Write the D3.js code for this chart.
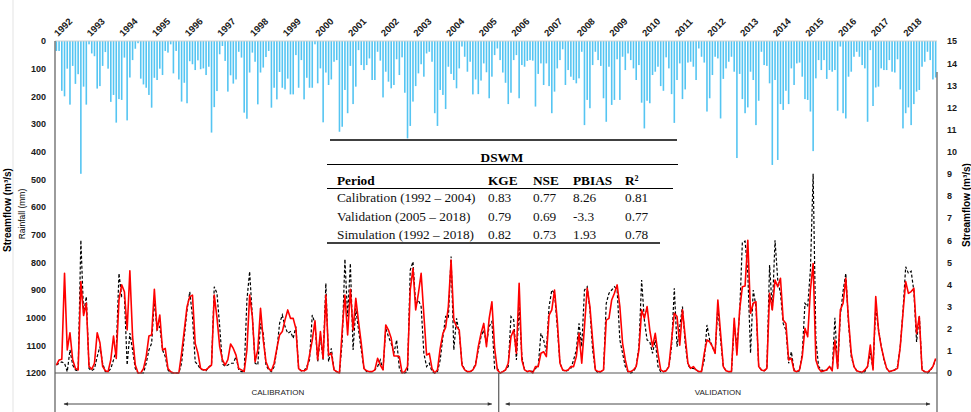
<!DOCTYPE html>
<html>
<head>
<meta charset="utf-8">
<script src="https://cdn.jsdelivr.net/npm/d3@7"></script>
<style>
  body { margin: 0; background: #fff; }
</style>
</head>
<body>
<svg id="chart" width="971" height="412"></svg>
<script>

// ---- data (monthly, Jan 1992 - Dec 2018) ----
var years = ['1992','1993','1994','1995','1996','1997','1998','1999','2000','2001','2002','2003','2004',
  '2005','2006','2007','2008','2009','2010','2011','2012','2013','2014','2015','2016','2017','2018'];

var rainTicks = [0,100,200,300,400,500,600,700,800,900,1000,1100,1200];
var flowTicks = [0,1,2,3,4,5,6,7,8,9,10,11,12,13,14,15];

// rainfall (mm)
var rainfall = [
  36,36,180,200,100,230,90,155,120,480,165,230,
  12,45,55,172,163,90,40,100,220,195,295,210,
  213,60,287,132,69,28,8,136,157,169,195,241,
  133,141,100,123,36,42,12,117,36,139,219,151,
  225,73,84,105,70,102,99,123,93,331,239,181,
  48,18,72,183,124,154,139,39,60,259,281,114,
  42,75,229,114,96,58,36,241,169,211,112,169,
  175,136,193,193,51,169,69,211,133,169,169,12,
  153,99,294,114,159,139,75,69,328,310,177,261,
  90,228,165,33,87,105,87,63,141,141,39,71,
  204,111,147,171,159,66,123,59,187,352,307,219,
  163,117,84,129,45,39,75,261,307,177,195,246,
  93,119,141,171,99,20,57,111,75,193,139,192,
  143,81,113,207,129,51,27,69,114,151,228,187,
  69,51,207,87,93,72,69,71,237,119,81,159,
  81,163,261,183,99,69,30,159,105,129,141,153,
  135,39,304,213,243,87,39,69,90,207,292,93,
  231,213,66,213,57,105,45,69,99,141,87,223,
  316,216,225,123,111,93,163,180,59,99,192,296,
  141,81,210,175,78,75,93,141,27,57,78,255,
  207,123,57,63,280,137,99,75,57,111,423,119,
  210,261,240,111,141,304,216,39,87,90,153,448,
  141,430,228,249,180,228,99,159,81,78,129,210,
  213,255,398,135,69,105,69,137,105,111,105,252,
  20,261,280,129,111,57,39,57,87,99,292,33,
  235,168,165,99,105,105,69,111,114,66,175,316,
  261,240,304,228,183,177,93,75,39,69,139,132
];

// observed streamflow (m3/s)
var observed = [
  0.36,0.44,0.5,0.44,0.06,1.04,0.36,0.14,0.1,6.0,2.7,3.45,
  0.2,0.1,0.2,0.74,1.19,0.44,0.06,0.06,0.2,0.59,1.04,4.5,
  3.45,3.45,0.36,1.8,1.04,0.2,0.0,0.0,0.0,0.44,1.04,1.34,
  3.3,1.94,2.1,1.04,0.74,0.14,0.0,0.0,0.0,0.0,0.44,1.64,
  2.83,3.67,2.55,0.51,0.36,0.17,0.14,0.1,0.28,0.36,3.9,3.6,
  2.1,0.41,0.3,0.36,0.44,0.44,0.74,0.14,0.06,0.06,3.3,4.58,
  2.55,0.44,0.36,2.24,1.79,0.36,0.14,0.06,0.28,1.04,2.24,2.62,
  2.1,1.79,1.87,1.57,2.1,0.2,0.1,0.1,0.29,0.59,2.62,2.24,
  0.51,1.64,0.59,4.05,0.51,1.11,0.14,0.06,0.0,1.4,5.14,2.55,
  4.95,1.04,2.92,1.94,1.04,0.2,0.06,0.06,0.06,0.14,0.29,0.59,
  0.14,2.02,1.64,1.34,0.89,1.49,0.2,0.0,0.0,0.06,4.65,5.03,
  3.07,3.3,3.0,0.89,0.29,0.44,0.06,0.0,0.06,0.59,1.64,2.55,
  2.47,5.26,1.04,2.47,1.79,0.44,0.14,0.06,0.06,0.14,0.44,1.04,
  1.64,1.94,1.34,2.1,2.32,0.2,0.21,0.0,0.06,0.14,0.29,2.55,
  2.4,0.59,3.0,0.74,0.14,0.06,0.1,0.06,0.21,0.29,1.79,1.49,
  0.96,3.0,3.75,3.6,2.09,0.44,0.14,0.06,0.14,0.21,0.59,1.04,
  2.24,1.19,3.75,3.9,2.85,1.04,0.14,0.0,0.06,0.14,3.15,3.6,
  3.75,3.9,3.75,1.49,0.89,0.29,0.06,0.0,0.06,0.29,1.19,4.2,
  2.39,1.49,1.41,0.89,1.49,0.29,0.06,0.06,0.1,0.29,1.19,3.83,
  1.19,2.09,3.0,1.34,0.36,0.21,0.21,0.14,0.06,0.1,0.59,2.17,
  1.49,1.19,0.89,3.0,1.49,0.29,0.1,0.06,0.06,2.2,1.2,2.7,
  5.9,5.96,4.5,0.9,3.75,3.0,0.3,0.14,0.1,0.2,4.88,2.85,
  6.0,4.2,3.6,2.24,1.94,0.44,0.96,0.14,0.06,0.1,0.9,3.15,
  3.0,4.65,9.0,1.5,0.3,0.14,0.1,0.14,0.3,0.14,2.5,0.2,
  2.6,3.7,4.5,2.2,0.74,0.3,0.1,0.06,0.0,0.06,0.3,0.9,
  0.2,3.0,2.0,1.2,0.6,0.21,0.06,0.1,0.14,0.3,1.2,2.8,
  4.8,4.5,4.6,3.7,1.4,2.6,0.14,0.06,0.0,0.1,0.3,0.6
];

// simulated streamflow, DSWM (m3/s)
var simulated = [
  0.36,0.59,0.62,4.5,1.04,1.82,0.6,0.2,0.14,4.13,2.6,3.15,
  0.3,0.17,0.44,1.82,1.37,0.3,0.1,0.06,0.6,1.67,0.66,3.3,
  3.98,3.67,1.94,4.62,1.64,0.36,0.0,0.0,0.2,0.74,1.67,1.72,
  3.78,1.94,2.62,1.04,1.11,0.2,0.06,0.0,0.0,0.0,0.89,1.94,
  3.0,3.45,3.52,1.34,0.89,0.2,0.14,0.14,0.25,0.36,3.52,2.5,
  1.19,0.6,0.36,0.6,1.31,1.11,0.81,0.2,0.14,0.06,1.04,3.52,
  2.55,0.51,1.04,2.92,1.49,0.51,0.2,0.1,0.44,1.11,1.72,1.87,
  2.4,2.85,2.47,2.47,2.0,0.2,0.1,0.1,0.17,0.81,1.49,2.36,
  0.6,1.87,0.66,3.52,0.81,0.89,0.14,0.06,0.0,1.94,3.52,1.72,
  3.78,1.94,3.37,2.32,1.34,0.2,0.1,0.06,0.06,0.14,0.66,0.36,
  0.14,2.17,1.94,1.57,0.77,0.77,0.74,0.0,0.06,0.29,3.75,4.73,
  2.85,3.6,4.5,2.62,0.81,0.89,0.2,0.0,0.14,1.11,1.79,2.06,
  3.0,5.1,2.4,2.1,1.94,0.36,0.14,0.06,0.06,0.14,0.36,1.19,
  1.79,2.24,1.19,2.47,3.22,1.11,0.14,0.0,0.06,0.14,0.44,1.64,
  1.94,0.89,4.05,0.59,0.14,0.06,0.1,0.0,0.29,0.29,0.89,0.96,
  0.74,2.62,2.85,3.75,2.39,0.44,0.14,0.1,0.14,0.29,0.29,0.74,
  1.79,0.44,2.09,3.83,3.0,1.49,0.14,0.06,0.06,0.14,2.39,2.47,
  3.3,3.6,3.98,3.0,1.34,0.59,0.06,0.06,0.14,0.29,1.04,2.85,
  2.47,3.0,1.94,1.19,1.79,0.89,0.14,0.06,0.1,0.29,1.49,2.7,
  2.55,1.26,2.85,1.64,0.44,0.21,0.29,0.14,0.06,0.06,0.89,1.49,
  1.41,1.19,0.89,3.3,1.79,0.29,0.1,0.06,0.06,2.47,0.81,2.85,
  3.9,3.93,6.0,2.7,3.15,3.22,0.29,0.14,0.1,0.21,3.6,2.85,
  4.2,3.9,4.28,2.39,2.24,0.59,0.66,0.1,0.06,0.14,0.74,2.02,
  1.64,3.75,4.95,0.59,0.21,0.06,0.1,0.14,0.29,0.1,1.49,0.21,
  2.85,3.15,4.28,2.39,0.89,0.29,0.1,0.06,0.03,0.14,0.29,1.26,
  0.14,3.45,1.94,1.19,0.66,0.21,0.06,0.1,0.14,0.21,1.19,2.7,
  4.13,3.6,3.68,3.83,1.79,2.55,0.14,0.06,0.03,0.14,0.29,0.66
];

// performance table
var tableTitle = 'DSWM';
var tableHead = ['Period', 'KGE', 'NSE', 'PBIAS', 'R\u00B2'];
var tableRows = [
  ['Calibration (1992 \u2013 2004)', '0.83', '0.77', '8.26', '0.81'],
  ['Validation (2005 \u2013 2018)', '0.79', '0.69', '-3.3', '0.77'],
  ['Simulation (1992 \u2013 2018)', '0.82', '0.73', '1.93', '0.78']
];

var periodNames = ['CALIBRATION', 'VALIDATION'];
var validationStart = 163; // month index where the validation panel starts in the figure

// ---- layout ----
var plot = {left: 55, right: 937, top: 41, bottom: 373};
var sans = '"Liberation Sans", Arial, sans-serif';
var serif = '"Liberation Serif", "Times New Roman", serif';
var axis_color = '#595959';

var svg = d3.select('#chart');

var x = d3.scaleLinear()
  .domain([0, rainfall.length])
  .range([plot.left, plot.right]);

var y_rain = d3.scaleLinear()
  .domain([0, 1200])
  .range([plot.top, plot.bottom]);

var y_flow = d3.scaleLinear()
  .domain([0, 15])
  .range([plot.bottom, plot.top]);

// faint frame line at the far left
svg.append('line')
  .attr('x1', 13).attr('x2', 13)
  .attr('y1', 0).attr('y2', 412)
  .style('stroke', '#e3e3e3')
  .style('stroke-width', 1);

// rainfall bars hanging from the top
var bar_w = 1.6;
svg.append('g')
  .classed('rain_bars', true)
  .selectAll('rect')
  .data(rainfall)
  .enter()
  .append('rect')
  .attr('x', function(d, i){ return x(i + 0.5) - bar_w / 2; })
  .attr('y', y_rain(0))
  .attr('width', bar_w)
  .attr('height', function(d){ return y_rain(d) - y_rain(0); })
  .style('fill', '#55c5f2');

// top line of rainfall axis
svg.append('line')
  .attr('x1', plot.left).attr('x2', plot.right)
  .attr('y1', y_rain(0)).attr('y2', y_rain(0))
  .style('stroke', '#d0d0d0')
  .style('stroke-width', 1);

// streamflow lines
var flow_line = d3.line()
  .x(function(d, i){ return x(i + 0.5); })
  .y(function(d){ return y_flow(d); });

svg.append('path')
  .datum(observed)
  .attr('d', flow_line)
  .style('fill', 'none')
  .style('stroke', '#000')
  .style('stroke-width', 1.2)
  .style('stroke-dasharray', '3,2');

svg.append('path')
  .datum(simulated)
  .attr('d', flow_line)
  .style('fill', 'none')
  .style('stroke', '#ff0000')
  .style('stroke-width', 1.6)
  .style('stroke-linejoin', 'round');

// axes
var left_axis = svg.append('g')
  .attr('transform', 'translate(' + plot.left + ',0)')
  .call(d3.axisLeft(y_rain).tickValues(rainTicks).tickFormat(d3.format('d')).tickSize(0).tickPadding(9));

var right_axis = svg.append('g')
  .attr('transform', 'translate(' + plot.right + ',0)')
  .call(d3.axisRight(y_flow).tickValues(flowTicks).tickFormat(d3.format('d')).tickSize(0).tickPadding(10));

[left_axis, right_axis].forEach(function(g){
  g.select('.domain').remove();
  g.selectAll('text')
    .style('font-family', sans)
    .style('font-weight', 700)
    .style('font-size', '9px')
    .style('fill', '#1a1a1a');
});

// axis lines
svg.append('line')
  .attr('x1', plot.left).attr('x2', plot.left)
  .attr('y1', plot.top).attr('y2', 412)
  .style('stroke', axis_color).style('stroke-width', 1.2);

svg.append('line')
  .attr('x1', plot.right).attr('x2', plot.right)
  .attr('y1', 72).attr('y2', 412)
  .style('stroke', axis_color).style('stroke-width', 1.2);

svg.append('line')
  .attr('x1', plot.left).attr('x2', plot.right)
  .attr('y1', plot.bottom).attr('y2', plot.bottom)
  .style('stroke', axis_color).style('stroke-width', 1.2);

// year labels, rotated
svg.append('g')
  .selectAll('text')
  .data(years)
  .enter()
  .append('text')
  .text(function(d){ return d; })
  .attr('transform', function(d, i){
    return 'translate(' + (x(i * 12) + 3) + ',37) rotate(-45)';
  })
  .style('font-family', sans)
  .style('font-weight', 700)
  .style('font-size', '9.5px')
  .style('fill', '#1a1a1a');

// axis titles
svg.append('text')
  .text('Streamflow (m\u00B3/s)')
  .attr('transform', 'translate(11,210) rotate(-90)')
  .style('text-anchor', 'middle')
  .style('font-family', sans)
  .style('font-weight', 700)
  .style('font-size', '10px');

svg.append('text')
  .text('Rainfall (mm)')
  .attr('transform', 'translate(25,214) rotate(-90)')
  .style('text-anchor', 'middle')
  .style('font-family', sans)
  .style('font-size', '8.5px');

svg.append('text')
  .text('Streamflow (m\u00B3/s)')
  .attr('transform', 'translate(970,205) rotate(-90)')
  .style('text-anchor', 'middle')
  .style('font-family', sans)
  .style('font-weight', 700)
  .style('font-size', '10px');

// calibration / validation panel
var split_x = x(validationStart);
svg.append('line')
  .attr('x1', split_x).attr('x2', split_x)
  .attr('y1', plot.bottom).attr('y2', 412)
  .style('stroke', axis_color).style('stroke-width', 1.2);

svg.append('defs').selectAll('marker')
  .data(['start', 'end'])
  .enter()
  .append('marker')
  .attr('id', function(d){ return 'arrow_' + d; })
  .attr('viewBox', '0 0 10 10')
  .attr('refX', function(d){ return d === 'end' ? 9 : 1; })
  .attr('refY', 5)
  .attr('markerWidth', 6)
  .attr('markerHeight', 5)
  .attr('orient', 'auto')
  .append('path')
  .attr('d', function(d){ return d === 'end' ? 'M0,1 L10,5 L0,9 Z' : 'M10,1 L0,5 L10,9 Z'; })
  .style('fill', '#333');

var spans = [[x(0) + 9, split_x - 7], [split_x + 7, x(rainfall.length) - 7]];

svg.append('g')
  .selectAll('line')
  .data(spans)
  .enter()
  .append('line')
  .attr('x1', function(d){ return d[0]; })
  .attr('x2', function(d){ return d[1]; })
  .attr('y1', 404).attr('y2', 404)
  .attr('marker-start', 'url(#arrow_start)')
  .attr('marker-end', 'url(#arrow_end)')
  .style('stroke', '#333')
  .style('stroke-width', 0.9);

svg.append('g')
  .selectAll('text')
  .data(periodNames)
  .enter()
  .append('text')
  .text(function(d){ return d; })
  .attr('x', function(d, i){ return (spans[i][0] + spans[i][1]) / 2; })
  .attr('y', 395)
  .style('text-anchor', 'middle')
  .style('font-family', sans)
  .style('font-size', '8px')
  .style('fill', '#222');

// ---- table ----
var table = svg.append('g').classed('perf_table', true);
var col_x = [337, 488, 533, 573, 625];
var row_y = [201.5, 220.5, 239];

var rules = [
  {x1: 330, x2: 677, y: 140, w: 1.6},
  {x1: 327, x2: 678, y: 164.5, w: 1},
  {x1: 327, x2: 673, y: 188.5, w: 1},
  {x1: 327, x2: 660, y: 243, w: 1.6}
];

table.selectAll('line')
  .data(rules)
  .enter()
  .append('line')
  .attr('x1', function(d){ return d.x1; })
  .attr('x2', function(d){ return d.x2; })
  .attr('y1', function(d){ return d.y; })
  .attr('y2', function(d){ return d.y; })
  .style('stroke', '#000')
  .style('stroke-width', function(d){ return d.w; });

table.append('text')
  .text(tableTitle)
  .attr('x', 502)
  .attr('y', 161.5)
  .style('text-anchor', 'middle')
  .style('font-family', serif)
  .style('font-weight', 700)
  .style('font-size', '13.3px');

table.selectAll('.head')
  .data(tableHead)
  .enter()
  .append('text')
  .classed('head', true)
  .text(function(d){ return d; })
  .attr('x', function(d, i){ return col_x[i]; })
  .attr('y', 184.5)
  .style('font-family', serif)
  .style('font-weight', 700)
  .style('font-size', '13.3px');

tableRows.forEach(function(row, r){
  table.selectAll('.row' + r)
    .data(row)
    .enter()
    .append('text')
    .classed('row' + r, true)
    .text(function(d){ return d; })
    .attr('x', function(d, i){ return col_x[i]; })
    .attr('y', row_y[r])
    .style('font-family', serif)
    .style('font-size', '13.3px')
    .style('fill', '#111');
});

</script>
</body>
</html>
